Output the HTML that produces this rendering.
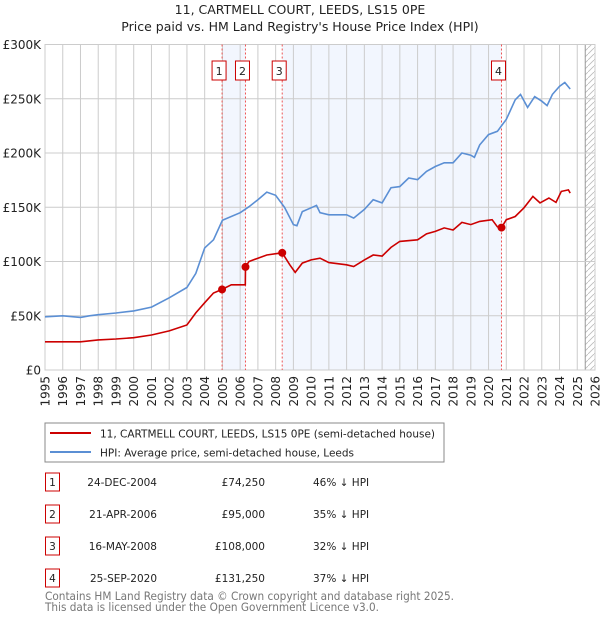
<!DOCTYPE html>
<html><head><meta charset="utf-8"><style>
body{margin:0;background:#fff;font-family:"Liberation Sans","DejaVu Sans",sans-serif;}
svg text{font-family:"DejaVu Sans","Liberation Sans",sans-serif;}
</style></head><body>
<svg id="c" width="600" height="620" xmlns="http://www.w3.org/2000/svg">
<defs><pattern id="hatch" width="6" height="6" patternUnits="userSpaceOnUse"><path d="M0,6 L6,0" stroke="#bbb" stroke-width="0.8"/></pattern></defs>
<text x="300" y="14" text-anchor="middle" font-size="12.5" fill="#222">11, CARTMELL COURT, LEEDS, LS15 0PE</text>
<text x="300" y="31" text-anchor="middle" font-size="12.5" fill="#222">Price paid vs. HM Land Registry's House Price Index (HPI)</text>
<g id="plot"></g>
<rect x="45" y="423" width="399" height="39" fill="#fff" stroke="#888"/>
<line x1="50" y1="433" x2="91" y2="433" stroke="#cc0000" stroke-width="2"/>
<text x="100" y="437.5" font-size="11" fill="#222" textLength="335" lengthAdjust="spacingAndGlyphs">11, CARTMELL COURT, LEEDS, LS15 0PE (semi-detached house)</text>
<line x1="50" y1="452" x2="91" y2="452" stroke="#5b8fd4" stroke-width="2"/>
<text x="100" y="456.5" font-size="11" fill="#222" textLength="254" lengthAdjust="spacingAndGlyphs">HPI: Average price, semi-detached house, Leeds</text>
<g id="table"></g>
<text x="45" y="600" font-size="11.5" fill="#777" textLength="409" lengthAdjust="spacingAndGlyphs">Contains HM Land Registry data © Crown copyright and database right 2025.</text>
<text x="45" y="611" font-size="11.5" fill="#777" textLength="334" lengthAdjust="spacingAndGlyphs">This data is licensed under the Open Government Licence v3.0.</text>
</svg>
<script>
const hpiYears=[1995,1996,1997,1997.5,1998,1999,2000,2001,2002,2003,2003.5,2004,2004.5,2005,2006,2006.5,2007,2007.5,2008,2008.5,2009,2009.2,2009.5,2010,2010.3,2010.5,2011,2012,2012.4,2013,2013.5,2014,2014.5,2015,2015.5,2016,2016.5,2017,2017.5,2018,2018.5,2019,2019.2,2019.5,2020,2020.5,2021,2021.5,2021.8,2022.2,2022.6,2023,2023.3,2023.6,2024,2024.3,2024.6];
const hpiValues=[49,50,48.5,50,51,52.5,54.5,58,66.5,76,89,112.5,120,138,145,150.5,157,164,161,150,134,133,146,149.5,151.7,145,143,143,140,148,157,154,168,169,177,175.5,183,187.6,191,191,200,198,196,207.5,217,220,231,249,254,242,252,247.7,243.7,254,261.5,265,259];
const priceYears=[1995,1997,1998,1999,2000,2001,2002,2003,2003.5,2004,2004.5,2004.98,2005.5,2006.29,2006.3,2006.5,2007,2007.5,2008.37,2008.8,2009.1,2009.5,2010,2010.5,2011,2012,2012.4,2013,2013.5,2014,2014.5,2015,2016,2016.5,2017,2017.5,2018,2018.5,2019,2019.5,2020.2,2020.5,2020.73,2021,2021.5,2022,2022.5,2022.9,2023.4,2023.8,2024.1,2024.5,2024.6];
const priceValues=[26,26,27.7,28.6,29.8,32.3,36,41.5,52.6,62,71,74.25,78.5,78.5,95,100,103,106,108,97,90,98.5,101.5,103,99,97,95.4,101.5,106,105,113,118.5,120,125.5,127.7,131,129,136,134,137,138.5,132,131.25,138.5,141.5,149.5,160,154,158.5,154.5,164.6,166,163];
const saleLabels=["1","2","3","4"];
const saleYears=[2004.98,2006.3,2008.37,2020.73];
const saleValues=[74.25,95,108,131.25];
const saleDates=["24-DEC-2004","21-APR-2006","16-MAY-2008","25-SEP-2020"];
const salePrices=["£74,250","£95,000","£108,000","£131,250"];
const saleHpi=["46% ↓ HPI","35% ↓ HPI","32% ↓ HPI","37% ↓ HPI"];
const yTicks=[0,50,100,150,200,250,300];
const yTickLabels=["£0","£50K","£100K","£150K","£200K","£250K","£300K"];
const xTicks=[];for(let y=1995;y<=2026;y++)xTicks.push(y);

const L=45,R=595,T=44.5,B=370;
const X=y=>L+(y-1995)*(R-L)/31;
const Y=v=>B-v*(B-T)/300;
const NS="http://www.w3.org/2000/svg";
const plot=document.getElementById('plot');
function mk(tag,attrs,parent){const e=document.createElementNS(NS,tag);for(const k in attrs)e.setAttribute(k,attrs[k]);(parent||plot).appendChild(e);return e;}

let e=mk('rect',{x:L,y:T,width:R-L,height:B-T,fill:'#fff'});


[[0,1],[2,3]].forEach((p,i)=>{
  const s=mk('rect',{x:X(saleYears[p[0]]),y:T,width:X(saleYears[p[1]])-X(saleYears[p[0]]),height:B-T,fill:'#eef3fd',opacity:0.75});
  
  
});
e=mk('rect',{x:X(2025.45),y:T,width:R-X(2025.45),height:B-T,fill:'url(#hatch)'});


e=mk('line',{x1:X(2025.45),y1:T,x2:X(2025.45),y2:B,stroke:'#999',"stroke-width":1});


xTicks.forEach(y=>{
  const g=mk('line',{x1:X(y),y1:T,x2:X(y),y2:B,stroke:'#ccc',"stroke-width":1});
  
  
  const t=mk('text',{x:0,y:0,transform:`translate(${X(y)+4.5},${B+6}) rotate(-90)`,"text-anchor":"end","font-size":12,fill:'#222'});
  t.textContent=y;
  
  
});
yTicks.forEach((v,i)=>{
  const g=mk('line',{x1:L,y1:Y(v),x2:R,y2:Y(v),stroke:'#ccc',"stroke-width":1});
  
  
  const t=mk('text',{x:L-4,y:Y(v)+4.5,"text-anchor":"end","font-size":12,fill:'#222'});
  t.textContent=yTickLabels[i];
  
  
});
e=mk('rect',{x:L,y:T,width:R-L,height:B-T,fill:'none',stroke:'#ccc'});


saleYears.forEach((y,i)=>{
  const l=mk('line',{x1:X(y),y1:T,x2:X(y),y2:B,stroke:'#e55',"stroke-width":1,"stroke-dasharray":"2,2"});
  
  
  const bx=X(y)-10;
  const r=mk('rect',{x:bx,y:61,width:14,height:19,fill:'#fff',stroke:'#cc0000'});
  
  
  const t=mk('text',{x:bx+7,y:75,"text-anchor":"middle","font-size":11,fill:'#222'});
  t.textContent=saleLabels[i];
  
  
});
e=mk('path',{d:hpiYears.map((y,i)=>(i?'L':'M')+X(y).toFixed(1)+','+Y(hpiValues[i]).toFixed(1)).join(''),fill:'none',stroke:'#5b8fd4',"stroke-width":1.6});


e=mk('path',{d:priceYears.map((y,i)=>(i?'L':'M')+X(y).toFixed(1)+','+Y(priceValues[i]).toFixed(1)).join(''),fill:'none',stroke:'#cc0000',"stroke-width":1.6});


saleYears.forEach((y,i)=>{
  const c=mk('circle',{cx:X(y),cy:Y(saleValues[i]),r:4,fill:'#cc0000'});
  
  
});
const tb=document.getElementById('table');
saleLabels.forEach((s,i)=>{
  const cy=482+i*32;
  const r=mk('rect',{x:45.5,y:cy-9,width:14,height:18,fill:'#fff',stroke:'#cc0000'},tb);
  
  
  const cells=[[52.5,'middle',s,'table-row-number'],[157,'end',saleDates[i],'table-row-date'],[265,'end',salePrices[i],'table-row-price'],[313,'start',saleHpi[i],'table-row-hpi']];
  cells.forEach(c=>{
    const t=mk('text',{x:c[0],y:cy+4,"text-anchor":c[1],"font-size":10.5,fill:'#222'},tb);
    t.textContent=c[2];
    
    
  });
});
</script>
</body></html>
